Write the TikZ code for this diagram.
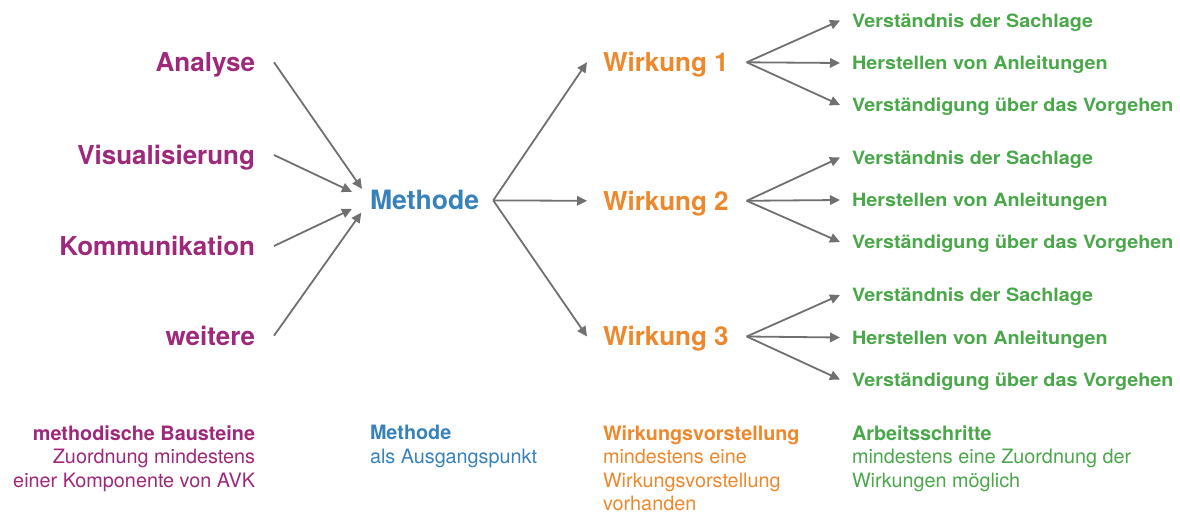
\documentclass[tikz,border=0pt]{standalone}
\usepackage{fontspec}
\setmainfont{TeX Gyre Heros}
\newfontfamily\widefont[FakeStretch=1.08]{TeX Gyre Heros}
\usetikzlibrary{arrows.meta}

\definecolor{cMag}{RGB}{158,40,122}
\definecolor{cBlue}{RGB}{56,130,188}
\definecolor{cOrange}{RGB}{238,136,44}
\definecolor{cGreen}{RGB}{74,167,74}
\definecolor{cArrow}{RGB}{112,112,112}

\tikzset{
  big/.style={font=\bfseries\fontsize{26}{26}\selectfont, text height=18.7pt,
    text depth=0pt, inner sep=0pt, outer sep=0pt},
  bausteinlabel/.style={big, text=cMag, anchor=east},
  methodlabel/.style={big, text=cBlue, anchor=west, font=\bfseries\fontsize{26.6}{26.6}\selectfont},
  effectlabel/.style={big, text=cOrange, anchor=west},
  steplabel/.style={font=\widefont\bfseries\fontsize{18.3}{18.3}\selectfont, text=cGreen,
    text height=13.2pt, text depth=0pt, inner sep=0pt, outer sep=0pt, anchor=west},
  legend/.style={font=\fontsize{19.8}{23.5}\selectfont, inner sep=0pt, outer sep=0pt},
  arr/.style={draw=cArrow, line width=1.8pt, -{Triangle[length=10pt,width=9.5pt]}}
}

\begin{document}
\begin{tikzpicture}[x=1pt, y=-1pt]
  \useasboundingbox (0,0) rectangle (1180,513);

  % methodische Bausteine
  \node[bausteinlabel] (ana) at (255,62.3) {Analyse};
  \node[bausteinlabel] (vis) at (255,155) {Visualisierung};
  \node[bausteinlabel] (kom) at (255,246) {Kommunikation};
  \node[bausteinlabel] (wei) at (255,335.7) {weitere};

  % Methode
  \node[methodlabel] (meth) at (370,200.4) {Methode};

  % Wirkungen
  \node[effectlabel] (w1) at (603,62.3) {Wirkung 1};
  \node[effectlabel] (w2) at (603,200.8) {Wirkung 2};
  \node[effectlabel] (w3) at (603,336.5) {Wirkung 3};

  % Arbeitsschritte
  \foreach \g/\y in {1/20.5, 2/157.5, 3/295} {
    \node[steplabel] (s\g a) at (852,\y) {Verständnis der Sachlage};
    \node[steplabel] (s\g b) at (852,\y+42.5) {Herstellen von Anleitungen};
    \node[steplabel] (s\g c) at (852,\y+84.5) {Verständigung über das Vorgehen};
  }

  % connectors into the method
  \draw[arr, shorten >=14pt] ([xshift=19pt]ana.east) -- (meth.west);
  \draw[arr, shorten >=20pt] ([xshift=19pt]vis.east) -- (meth.west);
  \draw[arr, shorten >=20pt] ([xshift=19pt]kom.east) -- (meth.west);
  \draw[arr, shorten >=15pt] ([xshift=19pt]wei.east) -- (meth.west);

  % connectors from the method to the effects
  \coordinate (mout) at ([xshift=14pt]meth.east);
  \foreach \w in {w1,w2,w3}
    \draw[arr] (mout) -- ([xshift=-16pt]\w.west);

  % connectors from each effect to its working steps
  \foreach \g in {1,2,3} {
    \coordinate (wout\g) at ([xshift=18pt]w\g.east);
    \foreach \s in {a,b,c}
      \draw[arr] (wout\g) -- ([xshift=-12pt]s\g\s.west);
  }

  % legend row
  \node[legend, text=cMag, align=right, anchor=north east] (legA) at (255,425.5)
    {\textbf{methodische Bausteine}\\Zuordnung mindestens\\einer Komponente von AVK};
  \node[legend, text=cBlue, align=left, anchor=north west] (legB) at (370,425.5)
    {\textbf{Methode}\\als Ausgangspunkt};
  \node[legend, text=cOrange, align=left, anchor=north west] (legC) at (603,425.5)
    {\textbf{Wirkungsvorstellung}\\mindestens eine\\Wirkungsvorstellung\\vorhanden};
  \node[legend, text=cGreen, align=left, anchor=north west] (legD) at (852,425.5)
    {\textbf{Arbeitsschritte}\\mindestens eine Zuordnung der\\Wirkungen möglich};
\end{tikzpicture}
\end{document}
